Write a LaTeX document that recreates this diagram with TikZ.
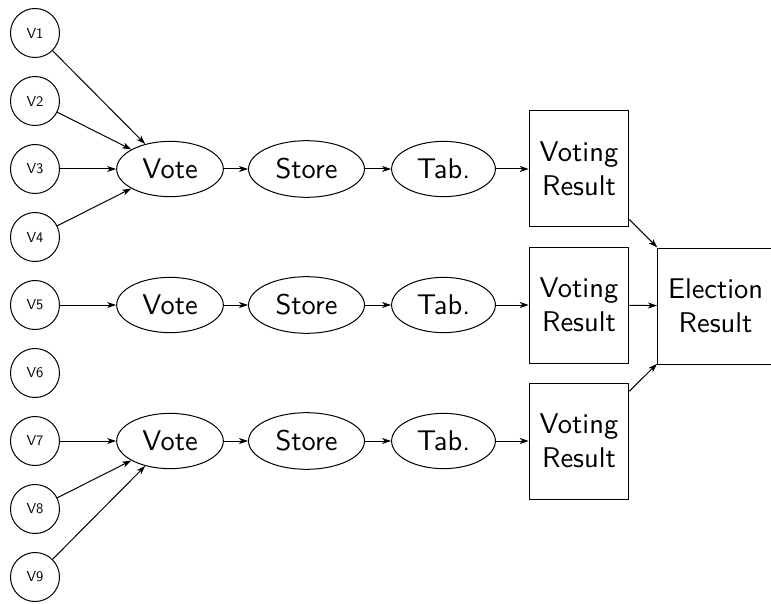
\documentclass[tikz,border=0pt]{standalone}
\usepackage{fontspec}
\setsansfont{lmsans10-regular.otf}
\usetikzlibrary{shapes.geometric,arrows.meta}
\tikzset{
  voter/.style={circle,draw,line width=1pt,minimum size=49pt,inner sep=0pt,
    font=\sffamily\fontsize{14.5}{17}\selectfont},
  stage/.style={ellipse,draw,line width=1pt,inner xsep=10pt,inner ysep=9.5pt,
    font=\sffamily\fontsize{28.5}{34.5}\selectfont},
  result/.style={rectangle,draw,line width=1pt,align=center,inner xsep=10.5pt,
    minimum height=116pt,font=\sffamily\fontsize{28.5}{34.5}\selectfont},
  flow/.style={line width=1pt,-{Stealth[length=9pt,width=6pt,inset=2.5pt]}}
}
\begin{document}
\begin{tikzpicture}[x=1pt,y=-1pt]
  \useasboundingbox (0,0) rectangle (771,604);

  % voters
  \foreach \i in {1,...,9}
    \node[voter] (v\i) at (35,{33+68*(\i-1)}) {V\i};

  % three precinct pipelines
  \foreach \r/\y in {1/169,2/305,3/441}{
    \node[stage] (vote\r)  at (170,\y)   {Vote};
    \node[stage] (store\r) at (306.5,\y) {Store};
    \node[stage] (tab\r)   at (443.5,\y) {Tab.};
    \node[result] (res\r)  at (579,\y)   {Voting\\Result};
    \draw[flow] (vote\r) -- (store\r);
    \draw[flow] (store\r) -- (tab\r);
    \draw[flow] (tab\r) -- (res\r);
  }

  \node[result,anchor=west] (elec) at (657,306) {Election\\Result};

  % voters to their polling stations
  \foreach \v in {1,2,3,4} \draw[flow] (v\v) -- (vote1);
  \draw[flow] (v5) -- (vote2);
  \foreach \v in {7,8,9} \draw[flow] (v\v) -- (vote3);

  % tallies to the overall result
  \foreach \r in {1,2,3} \draw[flow] (res\r) -- (elec);
\end{tikzpicture}
\end{document}
